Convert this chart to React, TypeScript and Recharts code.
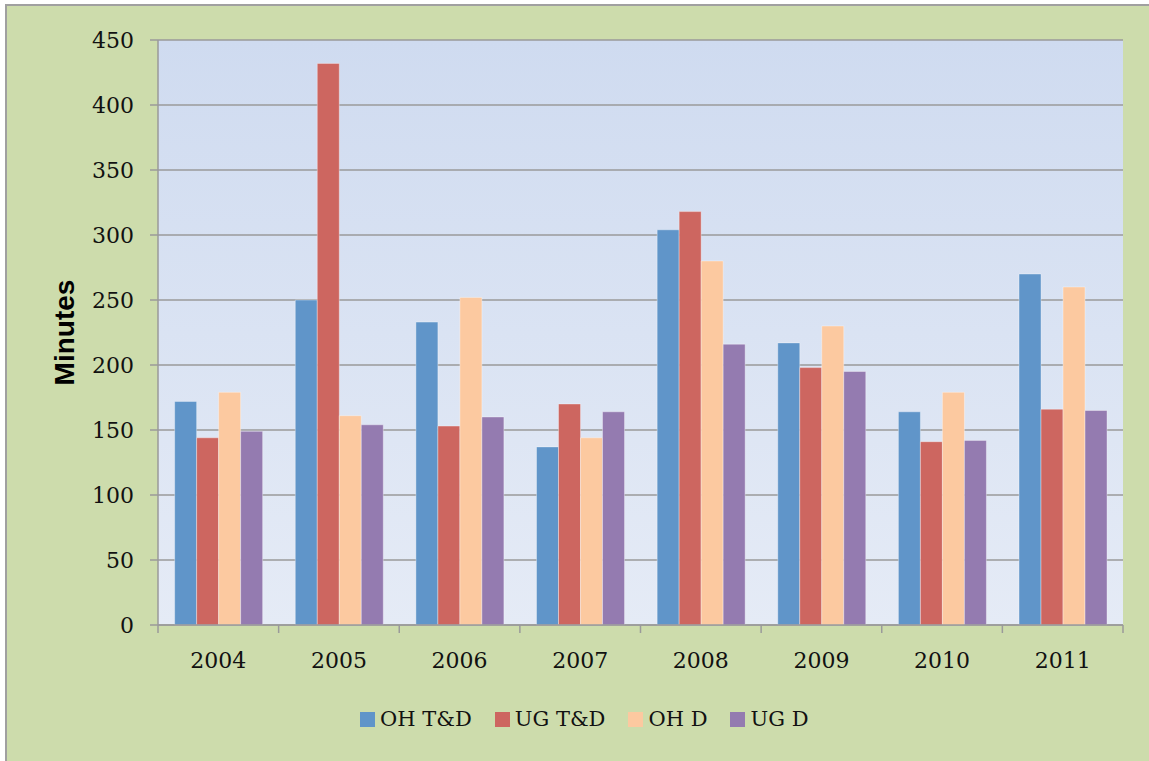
import React from 'react';
import { BarChart, Bar, XAxis, YAxis, CartesianGrid, Legend } from 'recharts';

const years = ['2004', '2005', '2006', '2007', '2008', '2009', '2010', '2011'];
const ohTD = [172, 250, 233, 137, 304, 217, 164, 270];
const ugTD = [144, 432, 153, 170, 318, 198, 141, 166];
const ohD = [179, 161, 252, 144, 280, 230, 179, 260];
const ugD = [149, 154, 160, 164, 216, 195, 142, 165];
const yTicks = [0, 50, 100, 150, 200, 250, 300, 350, 400, 450];

const seriesKeys = ['ohTD', 'ugTD', 'ohD', 'ugD'];
const seriesNames = ['OH T&D', 'UG T&D', 'OH D', 'UG D'];
const seriesColors = ['#6095C9', '#CD6660', '#FCC9A0', '#947BB0'];

const data = years.map((year, i) => ({
  year,
  ohTD: ohTD[i],
  ugTD: ugTD[i],
  ohD: ohD[i],
  ugD: ugD[i],
}));

const SERIF = '"DejaVu Serif", serif';
const AXIS_GREY = '#9a9a9a';

const XTick = (props: any) => {
  const { x, y, payload, index } = props;
  const off = payload.offset ?? 60;
  return (
    <g>
      <line x1={x - off} x2={x - off} y1={y - 8} y2={y} stroke={AXIS_GREY} strokeWidth={1.5} />
      {index === years.length - 1 && (
        <line x1={x + off} x2={x + off} y1={y - 8} y2={y} stroke={AXIS_GREY} strokeWidth={1.5} />
      )}
      <text x={x} y={y + 35} textAnchor="middle" fontFamily={SERIF} fontSize={22} fill="#111">
        {payload.value}
      </text>
    </g>
  );
};

const LegendContent = () => (
  <div style={{ display: 'flex', alignItems: 'center', fontFamily: SERIF, fontSize: 21, color: '#111' }}>
    {seriesNames.map((name, i) => (
      <div key={name} style={{ display: 'flex', alignItems: 'center', marginRight: 23 }}>
        <span style={{ width: 15, height: 15, background: seriesColors[i], marginRight: 5, display: 'inline-block' }} />
        <span>{name}</span>
      </div>
    ))}
  </div>
);

const App: React.FC = () => {
  return (
    <div style={{ position: 'absolute', left: 0, top: 0, width: 1149, height: 761, background: '#fff', overflow: 'hidden' }}>
      <div
        style={{
          position: 'absolute',
          left: 5,
          top: 4,
          width: 1150,
          height: 760,
          background: '#CDDCAC',
          borderLeft: '2px solid #a0a0a0',
          borderTop: '2px solid #a0a0a0',
        }}
      />
      <div style={{ position: 'absolute', left: 0, top: 0 }}>
        <BarChart
          width={1149}
          height={761}
          data={data}
          margin={{ top: 40, right: 26, left: 0, bottom: 76 }}
          barCategoryGap="13.8%"
          barGap={0}
        >
          <defs>
            <linearGradient id="plotBg" x1="0" y1="0" x2="0" y2="1">
              <stop offset="0%" stopColor="#CFDBF0" />
              <stop offset="100%" stopColor="#E5EBF6" />
            </linearGradient>
          </defs>
          <CartesianGrid vertical={false} fill="url(#plotBg)" fillOpacity={1} stroke={AXIS_GREY} strokeWidth={1.5} />
          <XAxis
            dataKey="year"
            height={60}
            tickLine={false}
            tickSize={8}
            tickMargin={0}
            axisLine={{ stroke: AXIS_GREY, strokeWidth: 1.5 }}
            tick={<XTick />}
            interval={0}
          />
          <YAxis
            width={158}
            domain={[0, 450]}
            ticks={yTicks}
            interval={0}
            tickSize={8}
            tickMargin={16}
            axisLine={{ stroke: AXIS_GREY, strokeWidth: 1.5 }}
            tickLine={{ stroke: AXIS_GREY, strokeWidth: 1.5 }}
            tick={{ fontFamily: SERIF, fontSize: 22, fill: '#111' }}
            label={{
              content: ({ viewBox }: any) => {
                const cx = viewBox.x + 64;
                const cy = viewBox.y + viewBox.height / 2;
                return (
                  <text
                    x={cx}
                    y={cy}
                    transform={`rotate(-90 ${cx} ${cy})`}
                    textAnchor="middle"
                    dominantBaseline="central"
                    fontFamily='"Liberation Sans", Arial, sans-serif'
                    fontWeight="bold"
                    fontSize={28}
                    fill="#000"
                  >
                    Minutes
                  </text>
                );
              },
            }}
          />
          <Legend
            layout="horizontal"
            verticalAlign="middle"
            align="center"
            wrapperStyle={{ top: 707, left: 360, width: 600 }}
            content={<LegendContent />}
          />
          {seriesKeys.map((key, i) => (
            <Bar
              key={key}
              dataKey={key}
              name={seriesNames[i]}
              fill={seriesColors[i]}
              stroke="#ffffff"
              strokeOpacity={0.35}
              strokeWidth={1}
              isAnimationActive={false}
            />
          ))}
        </BarChart>
      </div>
    </div>
  );
};

export default App;
